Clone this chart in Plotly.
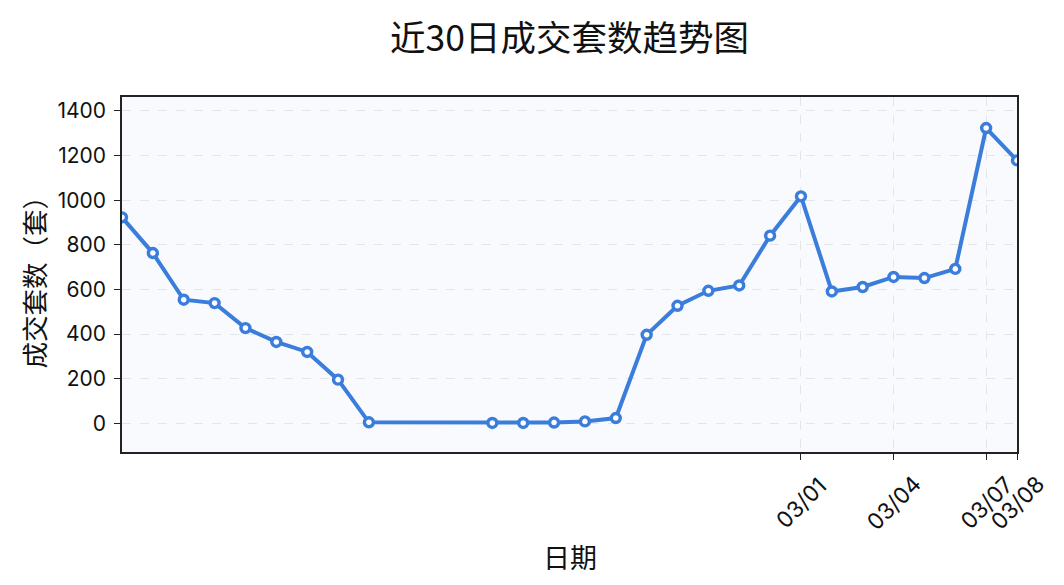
import plotly.graph_objects as go

dates = ["2025-02-07", "2025-02-08", "2025-02-09", "2025-02-10", "2025-02-11",
         "2025-02-12", "2025-02-13", "2025-02-14", "2025-02-15",
         "2025-02-19", "2025-02-20", "2025-02-21", "2025-02-22", "2025-02-23",
         "2025-02-24", "2025-02-25", "2025-02-26", "2025-02-27", "2025-02-28",
         "2025-03-01", "2025-03-02", "2025-03-03", "2025-03-04", "2025-03-05",
         "2025-03-06", "2025-03-07", "2025-03-08"]
deals = [923, 763, 554, 539, 427, 365, 320, 196, 5,
         2, 2, 4, 9, 24, 397, 527, 594, 618, 841,
         1017, 591, 611, 656, 651, 692, 1323, 1178]
tick_dates = ["2025-03-01", "2025-03-04", "2025-03-07", "2025-03-08"]
tick_labels = ["03/01", "03/04", "03/07", "03/08"]
y_ticks = [0, 200, 400, 600, 800, 1000, 1200, 1400]

CJK = "Noto Sans CJK SC, sans-serif"
NUM = "Inter, DejaVu Sans, Noto Sans CJK SC, sans-serif"
BLUE = "#3b7ddb"

fig = go.Figure()
fig.add_trace(go.Scatter(
    x=dates, y=deals, mode="lines+markers",
    line=dict(color=BLUE, width=4),
    marker=dict(symbol="circle", size=9, color="white",
                line=dict(color=BLUE, width=3.4)),
    showlegend=False,
))

for d, t in zip(tick_dates, tick_labels):
    fig.add_annotation(x=d, xref="x", y=-0.142, yref="paper", text=t,
                       textangle=-45, showarrow=False,
                       xanchor="center", yanchor="middle",
                       font=dict(family=NUM, size=22.5, color="#111111"))

fig.add_annotation(x=0.5, xref="paper", y=-0.294, yref="paper", text="日期",
                   showarrow=False, xanchor="center", yanchor="middle",
                   font=dict(family=CJK, size=27, color="#111111"))
fig.add_annotation(x=-0.0985, xref="paper", y=0.497, yref="paper",
                   text="成交套数（套）", textangle=-90, showarrow=False,
                   xanchor="center", yanchor="middle",
                   font=dict(family=CJK, size=26.5, color="#111111"))

# page body has an 8px default margin: the figure is sized to fit the window
fig.update_layout(
    width=1056, height=577,
    margin=dict(l=114, r=47, t=89, b=133),
    paper_bgcolor="white", plot_bgcolor="#f8fafd",
    title=dict(text="近30日成交套数趋势图", xref="paper", x=0.5, xanchor="center",
               y=0.947, yanchor="middle",
               font=dict(family=CJK, size=35.5, color="#111111")),
)
fig.update_xaxes(
    type="date", range=[dates[0], dates[-1]],
    tickvals=tick_dates, showticklabels=False,
    ticks="outside", ticklen=6, tickwidth=1.4, tickcolor="#222222",
    showgrid=True, gridcolor="#e2e6ea", griddash="dash", gridwidth=1,
    showline=True, linecolor="#222222", linewidth=1.6, mirror=True,
    zeroline=False,
)
fig.update_yaxes(
    range=[-128, 1462], tickvals=y_ticks,
    ticks="outside", ticklen=6, tickwidth=1.4, tickcolor="#222222",
    tickfont=dict(family=NUM, size=21, color="#111111"),
    ticklabelstandoff=4,
    showgrid=True, gridcolor="#e2e6ea", griddash="dash", gridwidth=1,
    showline=True, linecolor="#222222", linewidth=1.6, mirror=True,
    zeroline=False,
)

fig.write_html("out.html")
